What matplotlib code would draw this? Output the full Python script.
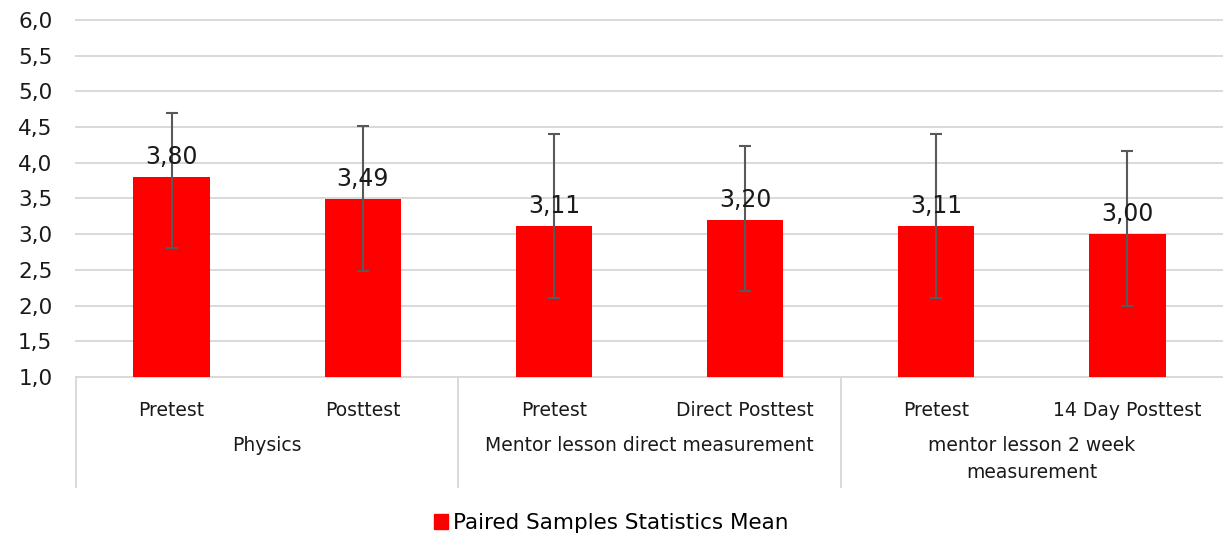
import numpy as np
import matplotlib
matplotlib.use("Agg")
import matplotlib.pyplot as plt
from matplotlib.patches import Patch
from matplotlib.transforms import blended_transform_factory

# data
sub_labels = ["Pretest", "Posttest", "Pretest", "Direct Posttest", "Pretest", "14 Day Posttest"]
group_labels = ["Physics", "Mentor lesson direct measurement", "mentor lesson 2 week\nmeasurement"]
group_sizes = [2, 2, 2]
means = [3.80, 3.49, 3.11, 3.20, 3.11, 3.00]
err_top = [4.70, 4.52, 4.41, 4.23, 4.41, 4.17]
err_bottom = [2.80, 2.49, 2.10, 2.20, 2.10, 1.99]
series_name = "Paired Samples Statistics Mean"

plt.rcParams['font.family'] = ['DejaVu Sans']

W, H = 1223, 537
fig = plt.figure(figsize=(W / 100, H / 100), dpi=100)
ax = fig.add_axes([76 / W, (H - 377) / H, (W - 76) / W, (377 - 20) / H])

x = np.arange(len(means))
yerr = [np.array(means) - np.array(err_bottom), np.array(err_top) - np.array(means)]
ax.bar(x, np.array(means) - 1.0, bottom=1.0, width=0.4, color='#ff0000', zorder=3)
ax.errorbar(x, means, yerr=yerr, fmt='none', ecolor='#595959', elinewidth=1.5,
            capsize=4, capthick=1.5, zorder=4)

for xi, m in zip(x, means):
    ax.annotate(f"{m:.2f}".replace('.', ','), (xi, m), xytext=(0, 6),
                textcoords='offset points', ha='center', va='bottom', fontsize=17,
                color='#1a1a1a', zorder=5)

ax.set_xlim(-0.5, len(means) - 0.5)
ax.set_ylim(1.0, 6.0)
ticks = np.arange(1.0, 6.01, 0.5)
ax.set_yticks(ticks)
ax.set_yticklabels([f"{t:.1f}".replace('.', ',') for t in ticks])
ax.yaxis.grid(True, color='#d9d9d9', linewidth=1.4, zorder=0)
for gl in ax.get_ygridlines():
    gl.set_clip_on(False)
ax.tick_params(axis='y', length=0, pad=17, labelsize=15.5, labelcolor='#1a1a1a')
ax.set_xticks(x)
ax.set_xticklabels(sub_labels)
ax.tick_params(axis='x', length=0, pad=17, labelsize=13.5, labelcolor='#1a1a1a')
for s in ['top', 'right', 'left']:
    ax.spines[s].set_visible(False)
ax.spines['bottom'].set_color('#d9d9d9')
ax.spines['bottom'].set_linewidth(1.4)

# group labels and separators under the axis
trans = blended_transform_factory(ax.transData, ax.transAxes)
sep_bottom = -(487 - 377) / (377 - 20)
start = 0
for name, n in zip(group_labels, group_sizes):
    left = start - 0.5
    ax.plot([left, left], [0, sep_bottom], transform=trans, color='#d9d9d9',
            linewidth=1.4, clip_on=False)
    ax.text(start + (n - 1) / 2, -(436 - 377) / (377 - 20), name, transform=trans,
            ha='center', va='top', fontsize=13.5, color='#1a1a1a', linespacing=1.55)
    start += n

fig.legend(handles=[Patch(color='#ff0000', label=series_name)], loc='center',
           bbox_to_anchor=(0.5, 1 - 523 / H), frameon=False, fontsize=15.5,
           handlelength=0.65, handleheight=0.7, handletextpad=0.25)

fig.savefig('out.png', dpi=100)
